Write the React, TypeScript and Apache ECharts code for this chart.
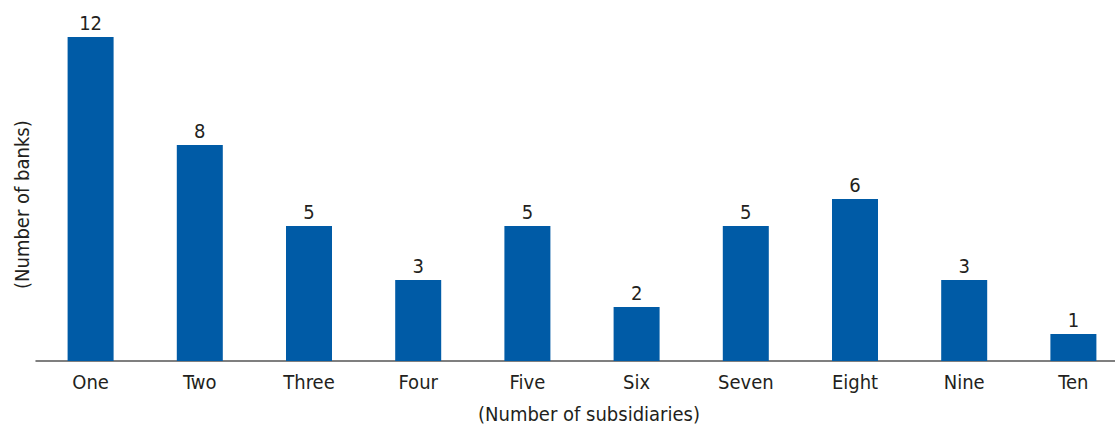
import React, { useEffect, useRef } from "react";
import * as echarts from "echarts";

const categories = ["One", "Two", "Three", "Four", "Five", "Six", "Seven", "Eight", "Nine", "Ten"];
const banks = [12, 8, 5, 3, 5, 2, 5, 6, 3, 1];
const yAxisTitle = "(Number of banks)";
const xAxisTitle = "(Number of subsidiaries)";

const FONT = "'DejaVu Sans Condensed', 'Liberation Sans Narrow', sans-serif";

export default function App() {
  const ref = useRef<HTMLDivElement>(null);
  useEffect(() => {
    if (!ref.current) return;
    const chart = echarts.init(ref.current, undefined, { renderer: "svg" });
    chart.setOption({
      animation: false,
      backgroundColor: "#ffffff",
      grid: { left: 36, width: 1092, top: 37, height: 324 },
      xAxis: {
        type: "category",
        data: categories,
        axisLine: { lineStyle: { color: "#555555", width: 1.5 } },
        axisTick: { show: false },
        axisLabel: { color: "#231f20", fontSize: 20, fontFamily: FONT, margin: 11 },
      },
      yAxis: {
        type: "value",
        min: 0,
        max: 12,
        show: false,
        splitLine: { show: false },
      },
      graphic: [
        {
          type: "text",
          left: 592 - 114,
          top: 404,
          style: { text: xAxisTitle, fill: "#231f20", font: `20px ${FONT}` },
        },
        {
          type: "text",
          x: 12,
          y: 289,
          rotation: Math.PI / 2,
          style: { text: yAxisTitle, fill: "#231f20", font: `20px ${FONT}` },
        },
      ],
      series: [
        {
          type: "bar",
          data: banks,
          barWidth: 46,
          itemStyle: { color: "#005ba6" },
          label: {
            show: true,
            position: "top",
            distance: 4,
            color: "#231f20",
            fontSize: 20,
            fontFamily: FONT,
          },
        },
      ],
    });
    return () => chart.dispose();
  }, []);
  return (
    <div style={{ width: 1115, height: 429, position: "absolute", left: 0, top: 0, overflow: "hidden" }}>
      <div ref={ref} style={{ width: 1130, height: 429 }} />
    </div>
  );
}
